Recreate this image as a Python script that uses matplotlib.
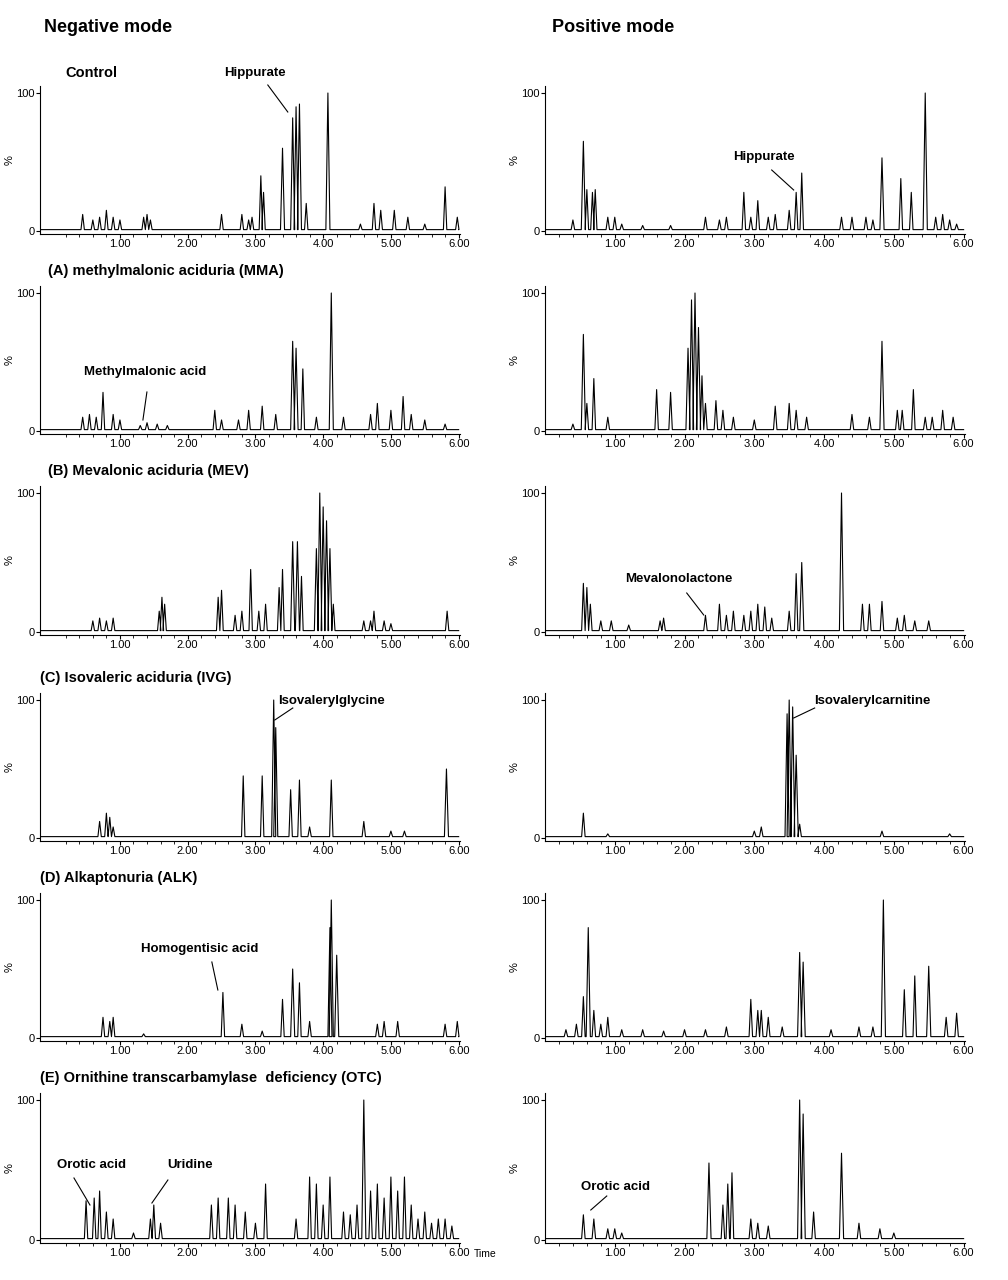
import matplotlib
matplotlib.use("Agg")
import matplotlib.pyplot as plt
import numpy as np

plt.rcParams['font.family'] = 'Liberation Sans'

# ---- data: (retention time, relative intensity %) peaks ----
neg_control = [(0.45,12),(0.6,8),(0.7,10),(0.8,15),(0.9,10),(1.0,8),(1.35,10),(1.4,12),(1.45,8),(2.5,12),(2.8,12),(2.9,8),(2.95,10),(3.08,40),(3.12,28),(3.4,60),(3.55,82),(3.6,90),(3.65,92),(3.75,20),(4.07,100),(4.55,5),(4.75,20),(4.85,15),(5.05,15),(5.25,10),(5.5,5),(5.8,32),(5.98,10)]
pos_control = [(0.4,8),(0.55,65),(0.6,30),(0.68,28),(0.72,30),(0.9,10),(1.0,10),(1.1,5),(1.4,4),(1.8,4),(2.3,10),(2.5,8),(2.6,10),(2.85,28),(2.95,10),(3.05,22),(3.2,10),(3.3,12),(3.5,15),(3.6,28),(3.68,42),(4.25,10),(4.4,10),(4.6,10),(4.7,8),(4.83,53),(5.1,38),(5.25,28),(5.45,100),(5.6,10),(5.7,12),(5.8,8),(5.9,5)]
neg_mma = [(0.45,10),(0.55,12),(0.65,10),(0.75,28),(0.9,12),(1.0,8),(1.3,4),(1.4,6),(1.55,5),(1.7,4),(2.4,15),(2.5,8),(2.75,8),(2.9,15),(3.1,18),(3.3,12),(3.55,65),(3.6,60),(3.7,45),(3.9,10),(4.12,100),(4.3,10),(4.7,12),(4.8,20),(5.0,15),(5.18,25),(5.3,12),(5.5,8),(5.8,5)]
pos_mma = [(0.4,5),(0.55,70),(0.6,20),(0.7,38),(0.9,10),(1.6,30),(1.8,28),(2.05,60),(2.1,95),(2.15,100),(2.2,75),(2.25,40),(2.3,20),(2.45,22),(2.55,15),(2.7,10),(3.0,8),(3.3,18),(3.5,20),(3.6,15),(3.75,10),(4.4,12),(4.65,10),(4.83,65),(5.05,15),(5.12,15),(5.28,30),(5.45,10),(5.55,10),(5.7,15),(5.85,10)]
neg_mev = [(0.6,8),(0.7,10),(0.8,8),(0.9,10),(1.58,15),(1.62,25),(1.66,20),(2.45,25),(2.5,30),(2.7,12),(2.8,15),(2.93,45),(3.05,15),(3.15,20),(3.35,32),(3.4,45),(3.55,65),(3.62,65),(3.68,40),(3.9,60),(3.95,100),(4.0,90),(4.05,80),(4.1,60),(4.15,20),(4.6,8),(4.7,8),(4.75,15),(4.9,8),(5.0,6),(5.83,15)]
pos_mev = [(0.55,35),(0.6,32),(0.65,20),(0.8,8),(0.95,8),(1.2,5),(1.65,8),(1.7,10),(2.3,12),(2.5,20),(2.6,12),(2.7,15),(2.85,12),(2.95,15),(3.05,20),(3.15,18),(3.25,10),(3.5,15),(3.6,42),(3.68,50),(4.25,100),(4.55,20),(4.65,20),(4.83,22),(5.05,10),(5.15,12),(5.3,8),(5.5,8)]
neg_ivg = [(0.7,12),(0.8,18),(0.85,15),(0.9,8),(2.82,45),(3.1,45),(3.27,100),(3.3,80),(3.52,35),(3.65,42),(3.8,8),(4.12,42),(4.6,12),(5.0,5),(5.2,5),(5.82,50)]
pos_ivg = [(0.55,18),(0.9,3),(3.0,5),(3.1,8),(3.47,90),(3.5,100),(3.55,95),(3.6,60),(3.65,10),(4.83,5),(5.8,3)]
neg_alk = [(0.75,15),(0.85,12),(0.9,15),(1.35,3),(2.52,33),(2.8,10),(3.1,5),(3.4,28),(3.55,50),(3.65,40),(3.8,12),(4.1,80),(4.12,100),(4.2,60),(4.8,10),(4.9,12),(5.1,12),(5.8,10),(5.98,12)]
pos_alk = [(0.3,6),(0.45,10),(0.55,30),(0.62,80),(0.7,20),(0.8,10),(0.9,15),(1.1,6),(1.4,6),(1.7,5),(2.0,6),(2.3,6),(2.6,8),(2.95,28),(3.05,20),(3.1,20),(3.2,15),(3.4,8),(3.65,62),(3.7,55),(4.1,6),(4.5,8),(4.7,8),(4.85,100),(5.15,35),(5.3,45),(5.5,52),(5.75,15),(5.9,18)]
neg_otc = [(0.5,28),(0.62,30),(0.7,35),(0.8,20),(0.9,15),(1.2,5),(1.45,15),(1.5,25),(1.6,12),(2.35,25),(2.45,30),(2.6,30),(2.7,25),(2.85,20),(3.0,12),(3.15,40),(3.6,15),(3.8,45),(3.9,40),(4.0,25),(4.1,45),(4.3,20),(4.4,18),(4.5,25),(4.6,100),(4.7,35),(4.8,40),(4.9,30),(5.0,45),(5.1,35),(5.2,45),(5.3,25),(5.4,15),(5.5,20),(5.6,12),(5.7,15),(5.8,15),(5.9,10)]
pos_otc = [(0.55,18),(0.7,15),(0.9,8),(1.0,8),(1.1,5),(2.35,55),(2.55,25),(2.62,40),(2.68,48),(2.95,15),(3.05,12),(3.2,10),(3.65,100),(3.7,90),(3.85,20),(4.25,62),(4.5,12),(4.8,8),(5.0,5)]

xtick_labels = ["1.00","2.00","3.00","4.00","5.00","6.00"]

rows = [(93,231),(293,431),(493,632),(700,838),(900,1038),(1100,1240)]
neg = [neg_control, neg_mma, neg_mev, neg_ivg, neg_alk, neg_otc]
pos = [pos_control, pos_mma, pos_mev, pos_ivg, pos_alk, pos_otc]

W, H = 1008, 1280
fig = plt.figure(figsize=(W/100, H/100), dpi=100)

def trace(peaks, x0):
    xs, ys = [x0, ], [1]
    for t, h in sorted(peaks):
        w = 0.025 if h < 50 else 0.03
        xs += [t-w, t, t+w]; ys += [1, h, 1]
    xs.append(6.0); ys.append(1)
    return np.array(xs), np.array(ys)

def make_ax(xl, xr, y100, y0, x0):
    span = y0 - y100
    bottom = y0 + 0.02*span
    top = y100 - 0.05*span
    ax = fig.add_axes([xl/W, 1-bottom/H, (xr-xl)/W, (bottom-top)/H])
    ax.set_xlim(x0, 6.02); ax.set_ylim(-2, 105)
    for s in ['top','right']: ax.spines[s].set_visible(False)
    ax.set_xticks([1,2,3,4,5,6]); ax.set_xticklabels(xtick_labels, fontsize=8)
    ax.set_xticks(np.arange(0.2, 6.01, 0.2), minor=True)
    ax.set_yticks([0,100]); ax.set_yticklabels(["0","100"], fontsize=8)
    ax.tick_params(length=3, pad=1); ax.tick_params(which='minor', length=2)
    ax.text(-0.085, 0.5, "%", transform=ax.transAxes, rotation=90, fontsize=8, va='center')
    return ax

axes = []
for i, (y100, y0) in enumerate(rows):
    axL = make_ax(40, 460, y100, y0, -0.18)
    x, y = trace(neg[i], -0.18); axL.plot(x, y, color='black', lw=0.8)
    axR = make_ax(545, 965, y100, y0, 0.0)
    x, y = trace(pos[i], 0.0); axR.plot(x, y, color='black', lw=0.8)
    axes.append((axL, axR))

def pt(side, row, x, y):
    y100, y0 = rows[row]
    t = (x-52.2)/67.8 if side == 0 else (x-546.2)/69.8
    return t, (y0-y)/(y0-y100)*100

def note(side, row, text, txy, p1, p2, ha='center'):
    ax = axes[row][side]
    ax.annotate(text, xy=pt(side,row,*txy), fontsize=9.5, fontweight='bold', ha=ha, va='center', annotation_clip=False)
    a, b = pt(side,row,*p1), pt(side,row,*p2)
    ax.plot([a[0],b[0]],[a[1],b[1]], color='black', lw=0.8, clip_on=False)

note(0,0,"Hippurate",(255,73),(268,85),(288,112))
note(1,0,"Hippurate",(765,157),(773,170),(795,190))
note(0,1,"Methylmalonic acid",(145,372),(147,392),(143,420))
note(1,2,"Mevalonolactone",(680,579),(688,593),(705,615))
note(0,3,"Isovalerylglycine",(278,701),(293,708),(275,720),ha='left')
note(1,3,"Isovalerylcarnitine",(815,701),(816,708),(795,718),ha='left')
note(0,4,"Homogentisic acid",(200,949),(212,962),(218,990))
note(0,5,"Orotic acid",(92,1165),(74,1178),(90,1205))
note(0,5,"Uridine",(190,1165),(168,1180),(152,1203))
note(1,5,"Orotic acid",(617,1187),(608,1196),(592,1210))

def ftext(x, y, s, size=10.5, ha='left'):
    fig.text(x/W, 1-y/H, s, fontsize=size, fontweight='bold', ha=ha, va='center')

ftext(44, 27, "Negative mode", 13)
ftext(552, 27, "Positive mode", 13)
ftext(65, 73, "Control")
ftext(48, 271, "(A) methylmalonic aciduria (MMA)")
ftext(48, 471, "(B) Mevalonic aciduria (MEV)")
ftext(40, 678, "(C) Isovaleric aciduria (IVG)")
ftext(40, 878, "(D) Alkaptonuria (ALK)")
ftext(40, 1078, "(E) Ornithine transcarbamylase  deficiency (OTC)")
fig.text(474/W, 1-1254/H, "Time", fontsize=7.5, va='center')

fig.savefig("out.png", dpi=100)
